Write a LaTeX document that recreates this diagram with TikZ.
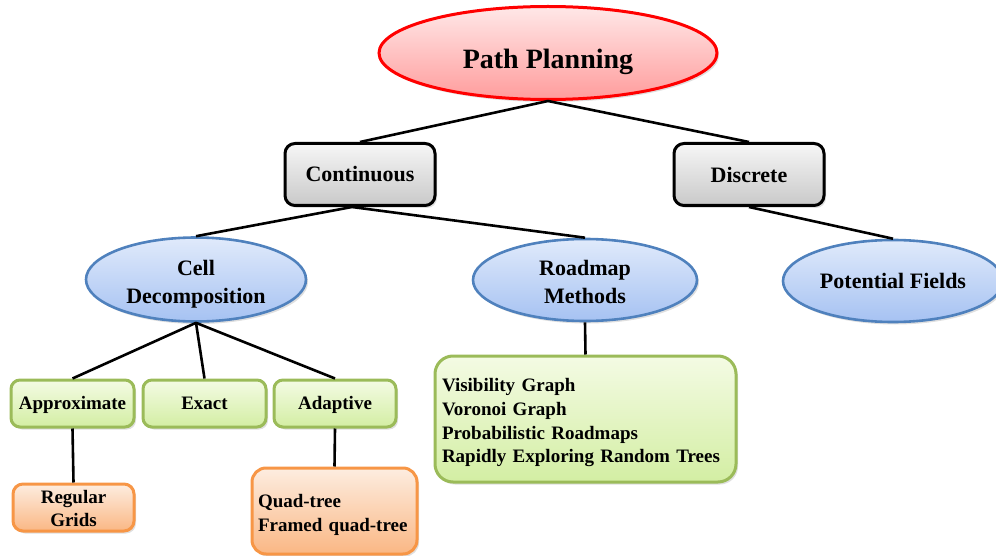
\documentclass[tikz,border=0pt]{standalone}
\usepackage{fontspec}
\setmainfont{Liberation Serif}
\usetikzlibrary{shapes.geometric,shadows}
\definecolor{pinkTop}{HTML}{FFE8E8}
\definecolor{pinkBot}{HTML}{FF9C9C}
\definecolor{grayTop}{HTML}{F6F6F6}
\definecolor{grayBot}{HTML}{C9C9C9}
\definecolor{blueTop}{HTML}{E0EAFB}
\definecolor{blueBot}{HTML}{A6C2F2}
\definecolor{blueLine}{HTML}{4F81BD}
\definecolor{greenTop}{HTML}{F4FBE4}
\definecolor{greenBot}{HTML}{D3EEA3}
\definecolor{greenLine}{HTML}{9BBB59}
\definecolor{orangeTop}{HTML}{FDEDE0}
\definecolor{orangeBot}{HTML}{FAB784}
\definecolor{orangeLine}{HTML}{F79646}
\newcommand{\vlift}[1]{\rule{0pt}{#1}}
\begin{document}
\begin{tikzpicture}[x=1pt,y=-1pt,
  conn/.style={line width=2.6pt,draw=black},
  shad/.style={drop shadow={opacity=0.25,shadow xshift=2pt,shadow yshift=-2.5pt}},
  fbig/.style={font=\fontsize{28}{34}\selectfont\bfseries},
  fmid/.style={font=\fontsize{22}{28}\selectfont\bfseries},
  fsmall/.style={font=\fontsize{19}{23.5}\selectfont\bfseries},
  rootell/.style={ellipse,shad,draw=red,line width=3pt,top color=pinkTop,bottom color=pinkBot,inner sep=0pt,fbig},
  graybox/.style={rectangle,rounded corners=10pt,shad,draw=black,line width=3pt,top color=grayTop,bottom color=grayBot,inner sep=0pt,fmid},
  blueell/.style={ellipse,shad,draw=blueLine,line width=2.6pt,top color=blueTop,bottom color=blueBot,inner sep=0pt,fmid,align=center},
  greenbox/.style={rectangle,rounded corners=9pt,shad,draw=greenLine,line width=3pt,top color=greenTop,bottom color=greenBot,inner sep=0pt,fsmall},
  orangebox/.style={rectangle,rounded corners=10pt,shad,draw=orangeLine,line width=3pt,top color=orangeTop,bottom color=orangeBot,inner sep=0pt,fsmall},
  leaflbl/.style={text height=17pt,text depth=4.5pt}
]
\useasboundingbox (0,0) rectangle (996,556);

\node[rootell,minimum width=338pt,minimum height=93pt,text height=38pt] (pp) at (548,53) {Path Planning};

\node[graybox,minimum width=150pt,minimum height=62pt] (cont) at (360,174.5) {Continuous};
\node[graybox,minimum width=150pt,minimum height=62pt] (disc) at (749,174.5) {Discrete};

\node[blueell,minimum width=220pt,minimum height=84pt] (cell) at (196,279.5) {\vlift{25pt}Cell\\Decomposition};
\node[blueell,minimum width=224pt,minimum height=82pt] (road) at (585,280) {\vlift{19pt}Roadmap\\Methods};
\node[blueell,minimum width=220pt,minimum height=82pt] (pf) at (893,281) {Potential Fields};

\node[greenbox,leaflbl,minimum width=123pt,minimum height=47pt] (appr) at (72.5,403.5) {Approximate};
\node[greenbox,leaflbl,minimum width=123pt,minimum height=47pt] (exact) at (204.5,403.5) {Exact};
\node[greenbox,leaflbl,minimum width=122pt,minimum height=47pt] (adapt) at (335,403.5) {Adaptive};

\node[orangebox,minimum width=121pt,minimum height=47pt,align=center] (reg) at (73.5,507.5) {\vlift{15pt}Regular\\Grids};
\node[orangebox,rounded corners=14pt,minimum width=165pt,minimum height=86pt,text width=153pt,inner xsep=6pt,align=left] (quad) at (334.5,511) {\vlift{21pt}Quad-tree\\Framed quad-tree};

\node[greenbox,rounded corners=18pt,minimum width=301pt,minimum height=126pt,text width=287pt,inner xsep=7pt,align=left,font=\fontsize{19}{23.7}\selectfont\bfseries] (rm) at (585.5,419) {\vlift{21pt}Visibility Graph\\Voronoi Graph\\Probabilistic Roadmaps\\Rapidly Exploring Random Trees};

\draw[conn] (pp.south) -- (cont.north);
\draw[conn] (pp.south) -- (disc.north);
\draw[conn] ([xshift=-8pt]cont.south) -- (cell.north);
\draw[conn] ([xshift=-8pt]cont.south) -- (road.north);
\draw[conn] (disc.south) -- (pf.north);
\draw[conn] (cell.south) -- (appr.north);
\draw[conn] (cell.south) -- (exact.north);
\draw[conn] (cell.south) -- (adapt.north);
\draw[conn] (appr.south) -- (reg.north);
\draw[conn] (adapt.south) -- (quad.north);
\draw[conn] (road.south) -- (rm.north);
\end{tikzpicture}
\end{document}
